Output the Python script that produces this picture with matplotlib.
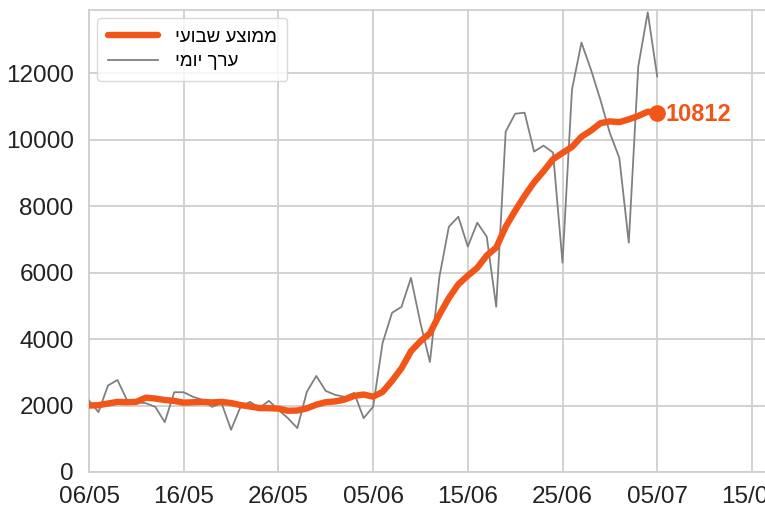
import matplotlib
matplotlib.use("Agg")
import matplotlib.pyplot as plt
import matplotlib.dates as mdates
import numpy as np
import pandas as pd

# ---- data ----
start_date = "2020-05-06"
daily_values = [2150, 1800, 2600, 2770, 2170, 2100, 2070, 1960, 1500, 2400,
                2400, 2260, 2170, 1960, 2070, 1270, 1960, 2110, 1930, 2140,
                1870, 1620, 1320, 2410, 2890, 2440, 2320, 2260, 2380, 1620,
                1960, 3880, 4790, 4970, 5840, 4480, 3310, 5870, 7380, 7680,
                6780, 7500, 7080, 4970, 10240, 10780, 10810, 9640, 9820, 9610,
                6300, 11500, 12920, 12110, 11200, 10200, 9450, 6900, 12200, 13830,
                11900]
weekly_values = [2000, 2010, 2060, 2110, 2100, 2110, 2237, 2210, 2167, 2139,
                 2086, 2099, 2109, 2093, 2109, 2076, 2013, 1971, 1924, 1920,
                 1907, 1843, 1850, 1914, 2026, 2099, 2124, 2180, 2289, 2331,
                 2267, 2409, 2744, 3123, 3634, 3934, 4176, 4734, 5234, 5647,
                 5906, 6143, 6514, 6751, 7376, 7861, 8309, 8717, 9049, 9410,
                 9600, 9780, 10086, 10271, 10494, 10549, 10526, 10611, 10711, 10841,
                 10811]
last_label = "10812"
label_weekly = "ממוצע שבועי"
label_daily = "ערך יומי"
ytick_values = [0, 2000, 4000, 6000, 8000, 10000, 12000]
xtick_dates = ["2020-05-06", "2020-05-16", "2020-05-26", "2020-06-05",
               "2020-06-15", "2020-06-25", "2020-07-05", "2020-07-15"]


def rtl(s):
    # matplotlib has no bidi support: reverse the logical order for display
    return s[::-1]


dates = pd.date_range(start_date, periods=len(daily_values), freq="D")

plt.rcParams["font.family"] = ["Liberation Sans", "DejaVu Sans"]

ORANGE = "#F25518"
GRID = "#cfcfcf"

fig = plt.figure(figsize=(7.65, 5.07), dpi=100)
ax = fig.add_axes([89 / 765, 35 / 507, (820 - 89) / 765, (472 - 10) / 507])
ax.set_facecolor("white")

ax.plot(dates, daily_values, color="#808080", lw=1.3, label=rtl(label_daily), zorder=3)
ax.plot(dates, weekly_values, color=ORANGE, lw=4.6, label=rtl(label_weekly),
        solid_capstyle="round", zorder=4)
ax.plot(dates[-1], weekly_values[-1], "o", color=ORANGE, ms=11, zorder=5)
ax.annotate(last_label, xy=(dates[-1], weekly_values[-1]), xytext=(6, -1),
            textcoords="offset points", ha="left", va="center",
            color=ORANGE, fontsize=17, fontweight="bold", zorder=6)

x0 = mdates.date2num(pd.Timestamp(xtick_dates[0]))
px_per_day = 9.47
ax.set_xlim(x0, x0 + (820 - 89) / px_per_day)
ax.set_ylim(0, 13900)

ax.set_xticks([pd.Timestamp(d) for d in xtick_dates])
ax.xaxis.set_major_formatter(mdates.DateFormatter("%d/%m"))
ax.set_yticks(ytick_values)

ax.grid(True, color=GRID, lw=1.3, zorder=0)
ax.set_axisbelow(True)
for s in ax.spines.values():
    s.set_color(GRID)
    s.set_linewidth(1.3)
ax.tick_params(axis="both", length=0, labelsize=17.5, colors="#222222")
ax.tick_params(axis="y", pad=11)
ax.tick_params(axis="x", pad=10)

handles, labels = ax.get_legend_handles_labels()
leg = ax.legend([handles[1], handles[0]], [labels[1], labels[0]],
                loc="upper left", bbox_to_anchor=(0.0, 1.0),
                borderaxespad=0.45,
                fontsize=13.5, frameon=True, fancybox=True,
                handlelength=2.7, handletextpad=0.9, borderpad=0.55,
                labelspacing=0.4)
leg.get_frame().set_edgecolor("#d0d0d0")
leg.get_frame().set_linewidth(1.0)

fig.savefig("out.png", dpi=100, facecolor="white")
